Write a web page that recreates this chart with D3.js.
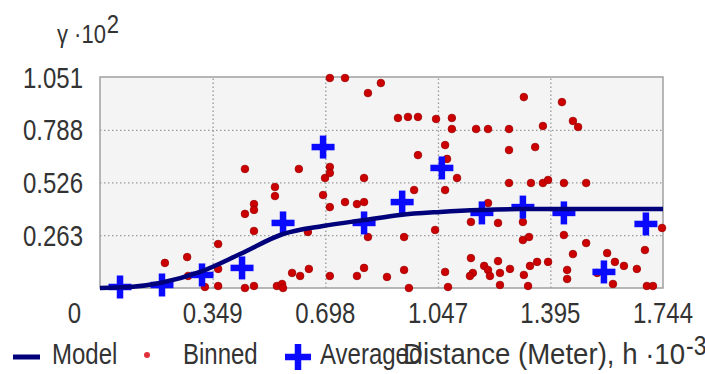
<!DOCTYPE html>
<html>
<head>
<meta charset="utf-8">
<script src="https://cdn.jsdelivr.net/npm/d3@7"></script>
<style>
  html, body { margin: 0; padding: 0; background: #ffffff; }
  svg { display: block; }
  text { font-family: "Liberation Sans", Arial, sans-serif; fill: #333333; }
</style>
</head>
<body>
<div id="chart"></div>
<script>
// ---- data (distance in 10^3 m, semivariance in 10^2) ----
const xTicks = [0.349, 0.698, 1.047, 1.395, 1.744];
const xTickLabels = ["0.349", "0.698", "1.047", "1.395", "1.744"];
const yTicks = [0.263, 0.526, 0.788, 1.051];
const yTickLabels = ["0.263", "0.526", "0.788", "1.051"];
const originLabel = "0";
const xMax = 1.744;
const yMax = 1.051;

const binnedX = [0.201,0.270,0.273,0.325,0.366,0.366,0.366,0.449,0.449,0.449,
  0.477,0.477,0.477,0.477,0.542,0.542,0.548,0.564,0.567,0.595,
  0.620,0.647,0.616,0.644,0.691,0.697,0.712,0.712,0.712,0.712,
  0.712,0.759,0.830,0.870,0.759,0.796,0.818,0.818,0.830,0.796,
  0.818,0.889,0.923,0.954,0.985,1.041,1.090,1.090,1.165,1.202,
  1.267,1.313,0.985,1.069,1.075,1.106,1.267,1.348,1.267,1.335,
  1.372,1.388,1.437,1.506,0.973,1.069,1.202,1.149,1.233,0.942,
  1.038,1.310,1.310,1.329,1.149,1.233,1.190,1.202,1.155,1.146,
  1.208,1.239,1.270,1.313,1.332,0.942,0.957,1.069,1.078,1.239,
  1.326,1.431,1.465,1.481,1.372,1.437,1.506,1.465,1.354,1.388,
  1.447,1.447,1.571,1.595,1.623,1.663,1.688,1.741,1.589,1.540,
  1.694,1.713];
const binnedY = [0.125,0.154,0.060,0.005,0.219,0.095,0.010,0.593,0.369,0.000,
  0.418,0.389,0.284,0.010,0.503,0.458,0.010,0.020,0.000,0.075,
  0.060,0.095,0.593,0.279,0.463,0.548,0.603,0.573,0.403,0.060,
  1.046,1.046,0.971,1.021,0.428,0.418,0.428,0.548,0.254,0.060,
  0.100,0.055,0.847,0.852,0.852,0.842,0.847,0.792,0.792,0.792,
  0.792,0.951,0.662,0.712,0.643,0.548,0.687,0.702,0.523,0.523,
  0.523,0.538,0.523,0.523,0.488,0.488,0.423,0.329,0.324,0.254,
  0.289,0.329,0.239,0.254,0.149,0.134,0.110,0.090,0.075,0.060,
  0.060,0.075,0.095,0.065,0.110,0.090,0.000,0.080,0.005,0.015,
  0.010,0.926,0.832,0.802,0.807,0.264,0.224,0.169,0.130,0.130,
  0.090,0.045,0.174,0.130,0.110,0.095,0.189,0.299,0.020,0.075,
  0.010,0.010];

const avgX = [0.062,0.192,0.316,0.440,0.567,0.691,0.818,0.936,1.059,1.183,1.310,1.437,1.561,1.691];
const avgY = [0.005,0.015,0.065,0.100,0.324,0.702,0.324,0.428,0.598,0.374,0.403,0.374,0.080,0.319];

const modelX = [0,0.093,0.186,0.310,0.434,0.567,0.691,0.821,0.929,1.053,1.177,1.301,1.425,1.744];
const modelY = [0,0.005,0.025,0.080,0.169,0.269,0.309,0.339,0.364,0.379,0.389,0.393,0.393,0.393];

const legendLabels = ["Model", "Binned", "Averaged"];
const xTitle = "Distance (Meter), h \u00B710";
const xTitleSup = "-3";
const yTitle = "\u03B3 \u00B710";
const yTitleSup = "2";

// ---- layout ----
const W = 705, H = 374;
const L = 100, R = 663, T = 77, B = 288;

const svg = d3.select("#chart").append("svg").attr("width", W).attr("height", H);

const x = d3.scaleLinear().domain([0, xMax]).range([L, R]);
const y = d3.scaleLinear().domain([0, yMax]).range([B, T]);

// plot background
svg.append("rect").attr("x", L).attr("y", T).attr("width", R - L).attr("height", B - T)
  .attr("fill", "#f4f4f4");

// grid via axes
const gridXg = svg.append("g").attr("transform", `translate(0,${B})`)
  .call(d3.axisBottom(x).tickValues(xTicks.slice(0, -1)).tickSize(-(B - T)).tickFormat(""));
const gridYg = svg.append("g").attr("transform", `translate(${L},0)`)
  .call(d3.axisLeft(y).tickValues(yTicks.slice(0, -1)).tickSize(-(R - L)).tickFormat(""));
[gridXg, gridYg].forEach(g => {
  g.select(".domain").remove();
  g.selectAll("line").attr("stroke", "#9a9a9a").attr("stroke-width", 1.3)
    .attr("stroke-dasharray", "1.5,2.5");
});

// border
svg.append("rect").attr("x", L).attr("y", T).attr("width", R - L).attr("height", B - T)
  .attr("fill", "none").attr("stroke", "#a0a0a0").attr("stroke-width", 1.5);

// binned points
const binned = binnedX.map((d, i) => ({ x: d, y: binnedY[i] }));
svg.append("g").selectAll("circle").data(binned).join("circle")
  .attr("cx", d => x(d.x)).attr("cy", d => y(d.y)).attr("r", 3.8)
  .attr("fill", "#cc0000").attr("stroke", "#a00000").attr("stroke-width", 0.8);

// averaged crosses
function cross(g, cx, cy, span, thick) {
  g.append("line").attr("x1", cx - span / 2).attr("x2", cx + span / 2).attr("y1", cy).attr("y2", cy)
    .attr("stroke", "#0a0aff").attr("stroke-width", thick);
  g.append("line").attr("x1", cx).attr("x2", cx).attr("y1", cy - span / 2).attr("y2", cy + span / 2)
    .attr("stroke", "#0a0aff").attr("stroke-width", thick);
}
const avgG = svg.append("g");
avgX.forEach((d, i) => cross(avgG, x(d), y(avgY[i]), 23, 6.5));

// model line
const model = modelX.map((d, i) => ({ x: d, y: modelY[i] }));
svg.append("path").datum(model)
  .attr("d", d3.line().x(d => x(d.x)).y(d => y(d.y)).curve(d3.curveMonotoneX))
  .attr("fill", "none").attr("stroke", "#00007a").attr("stroke-width", 4.5);

// text helper (stretched vertically like the reference)
function label(txt, px, py, anchor, size, sy, len) {
  const t = svg.append("text")
    .attr("transform", `translate(${px},${py}) scale(1,${sy})`)
    .attr("text-anchor", anchor).style("font-size", size + "px").text(txt);
  if (len) t.attr("textLength", len).attr("lengthAdjust", "spacingAndGlyphs");
  return t;
}

// x tick labels
xTicks.forEach((v, i) => label(xTickLabels[i], x(v), 323, "middle", 24, 1.2));
label(originLabel, 81, 323, "end", 24, 1.2);
// y tick labels
yTicks.forEach((v, i) => label(yTickLabels[i], 83, y(v) + 10.5, "end", 24, 1.2));

// y title with superscript
const yt = label(yTitle, 57, 43, "start", 22, 1.15);
yt.append("tspan").attr("dx", 1).attr("dy", -9).text(yTitleSup);

// legend
svg.append("line").attr("x1", 13).attr("x2", 40).attr("y1", 357).attr("y2", 357)
  .attr("stroke", "#00007a").attr("stroke-width", 5);
label(legendLabels[0], 52, 364, "start", 24, 1.2);
svg.append("circle").attr("cx", 147).attr("cy", 355).attr("r", 3).attr("fill", "#e0303a");
label(legendLabels[1], 183, 364, "start", 24, 1.2);
cross(svg, 298, 357, 26, 6.5);
label(legendLabels[2], 320, 364, "start", 24, 1.2);

// x title (overlapping the legend as in the reference)
label(xTitle, 403, 364, "start", 25, 1.2, 282);
label(xTitleSup, 686, 355, "start", 23, 1.2);
</script>
</body>
</html>
